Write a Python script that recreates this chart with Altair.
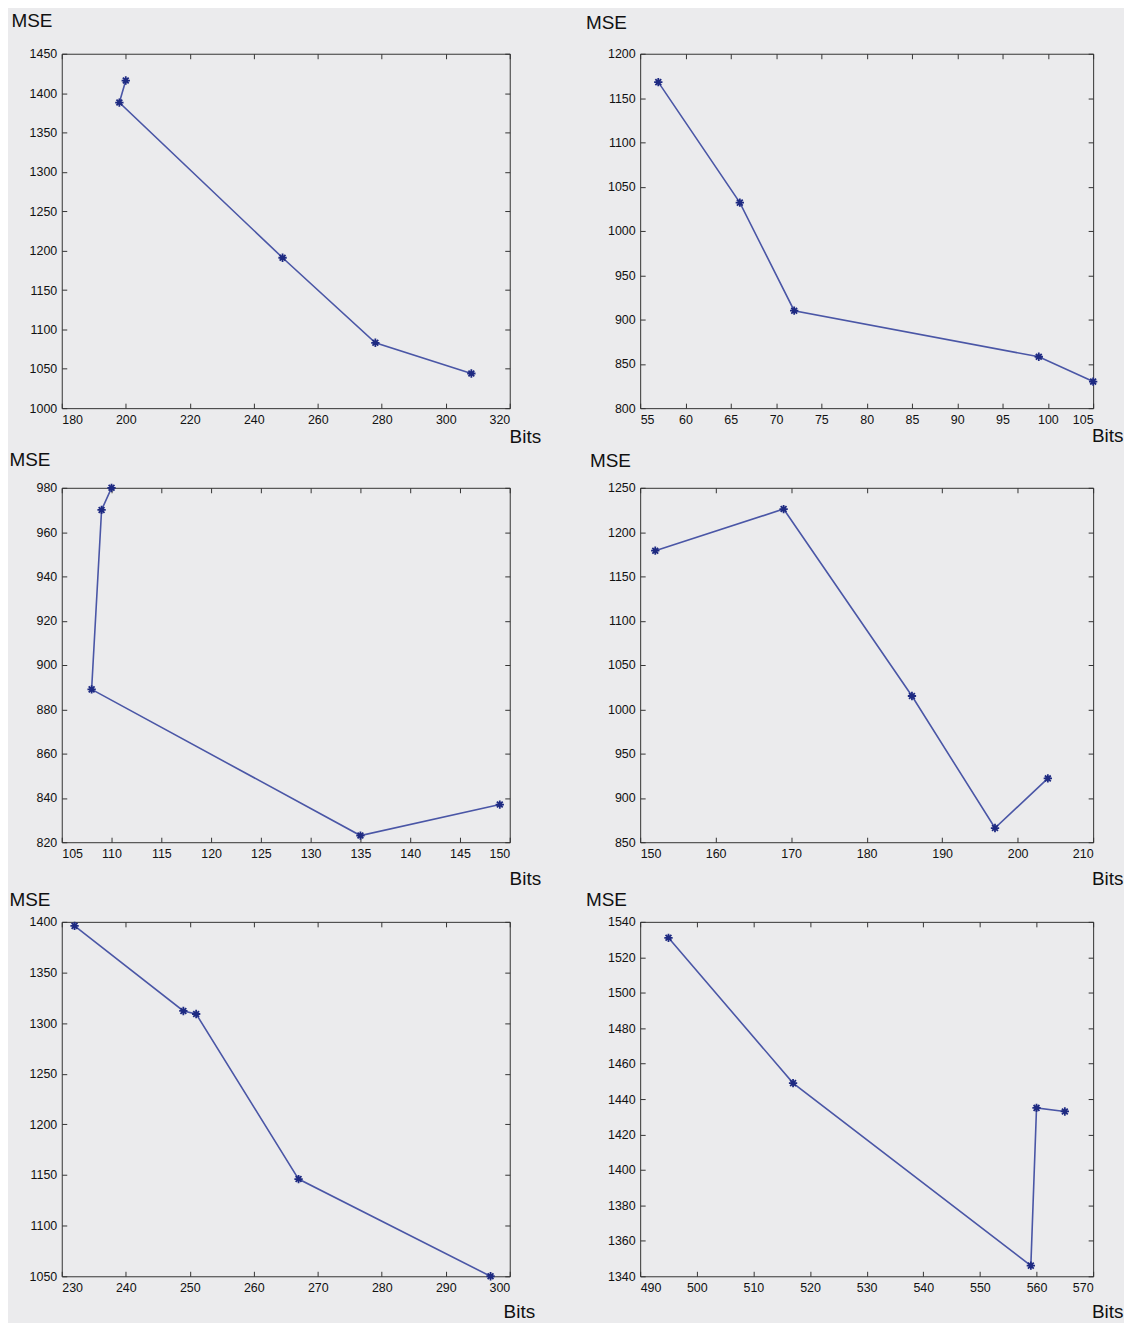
import altair as alt
import pandas as pd

# ---- data (Bits, MSE) in plotting order ----
p1_bits = [200, 198, 249, 278, 308]
p1_mse = [1416, 1388, 1191, 1083, 1044]
p2_bits = [57, 66, 72, 99, 105]
p2_mse = [1168, 1032, 910, 858, 830]
p3_bits = [110, 109, 108, 135, 149]
p3_mse = [980, 970, 889, 823, 837]
p4_bits = [152, 169, 186, 197, 204]
p4_mse = [1179, 1226, 1015, 866, 922]
p5_bits = [232, 249, 251, 267, 297]
p5_mse = [1396, 1312, 1309, 1146, 1050]
p6_bits = [495, 517, 559, 560, 565]
p6_mse = [1531, 1449, 1346, 1435, 1433]

# ---- tick values ----
p1_xticks = [180, 200, 220, 240, 260, 280, 300, 320]
p1_yticks = [1000, 1050, 1100, 1150, 1200, 1250, 1300, 1350, 1400, 1450]
p2_xticks = [55, 60, 65, 70, 75, 80, 85, 90, 95, 100, 105]
p2_yticks = [800, 850, 900, 950, 1000, 1050, 1100, 1150, 1200]
p3_xticks = [105, 110, 115, 120, 125, 130, 135, 140, 145, 150]
p3_yticks = [820, 840, 860, 880, 900, 920, 940, 960, 980]
p4_xticks = [150, 160, 170, 180, 190, 200, 210]
p4_yticks = [850, 900, 950, 1000, 1050, 1100, 1150, 1200, 1250]
p5_xticks = [230, 240, 250, 260, 270, 280, 290, 300]
p5_yticks = [1050, 1100, 1150, 1200, 1250, 1300, 1350, 1400]
p6_xticks = [490, 500, 510, 520, 530, 540, 550, 560, 570]
p6_yticks = [1340, 1360, 1380, 1400, 1420, 1440, 1460, 1480, 1500, 1520, 1540]

H, T = 356, 5
FONT = "Liberation Sans"
BG = "#ebebed"
LINE_C = "#4a56a6"
MARK_C = "#1e2a82"
STAR = "M-1,0L1,0M0,-1L0,1M-0.7,-0.7L0.7,0.7M-0.7,0.7L0.7,-0.7"


def panel(bits, mse, xt, yt, mse_pos, bits_pos, W):
    df = pd.DataFrame({"Bits": bits, "MSE": mse, "i": list(range(len(bits)))})
    xs = alt.Scale(domain=[xt[0], xt[-1]], nice=False, zero=False)
    ys = alt.Scale(domain=[yt[0], yt[-1]], nice=False, zero=False)
    common = dict(grid=False, domain=False, tickSize=T, offset=-T, tickColor="#333",
                  labelFont=FONT, labelFontSize=12.5, labelColor="#111", format="d")
    x_ax = alt.Axis(values=xt, orient="bottom", labelPadding=5, title="Bits",
                    titleAngle=0, titleAlign="right", titleBaseline="alphabetic",
                    titleX=W + bits_pos[0], titleY=bits_pos[1] + T,
                    titleFont=FONT, titleFontSize=19, titleFontWeight="normal",
                    titleColor="#111", **common)
    y_ax = alt.Axis(values=yt, orient="left", labelPadding=5, title="MSE",
                    titleAngle=0, titleAlign="left", titleBaseline="alphabetic",
                    titleX=mse_pos[0] - T, titleY=mse_pos[1],
                    titleFont=FONT, titleFontSize=19, titleFontWeight="normal",
                    titleColor="#111", **common)
    base = alt.Chart(df)
    line = base.mark_line(color=LINE_C, strokeWidth=1.6).encode(
        x=alt.X("Bits:Q", scale=xs, axis=x_ax),
        y=alt.Y("MSE:Q", scale=ys, axis=y_ax),
        order="i:Q",
    )
    pts = base.mark_point(shape=STAR, filled=False, color=MARK_C, size=70,
                          strokeWidth=1.8, opacity=1).encode(
        x=alt.X("Bits:Q", scale=xs, axis=None),
        y=alt.Y("MSE:Q", scale=ys, axis=None),
    )
    frame_ticks = base.mark_point(opacity=0).encode(
        x=alt.X("Bits:Q", scale=xs, axis=alt.Axis(values=xt, orient="top", labels=False,
                                                  title=None, **common)),
        y=alt.Y("MSE:Q", scale=ys, axis=alt.Axis(values=yt, orient="right", labels=False,
                                                 title=None, **common)),
    )
    return alt.layer(line, pts, frame_ticks).properties(width=W, height=H)


panels = [
    panel(p1_bits, p1_mse, p1_xticks, p1_yticks, (-51, -27), (31, 35), 450),
    panel(p2_bits, p2_mse, p2_xticks, p2_yticks, (-55, -25), (30, 33), 455),
    panel(p3_bits, p3_mse, p3_xticks, p3_yticks, (-53, -22), (31, 42), 450),
    panel(p4_bits, p4_mse, p4_xticks, p4_yticks, (-51, -21), (30, 42), 455),
    panel(p5_bits, p5_mse, p5_xticks, p5_yticks, (-53, -16), (25, 41), 450),
    panel(p6_bits, p6_mse, p6_xticks, p6_yticks, (-55, -16), (30, 41), 455),
]

chart = alt.concat(*panels, columns=2, spacing={"row": 80, "column": 131},
                   bounds="flush").configure(
    background=BG, padding={"left": 0, "top": 0, "right": 0, "bottom": 0}
).configure_view(fill=BG, stroke="#333", strokeWidth=1)

chart.save("out.html", embed_options={"renderer": "svg", "actions": False})
